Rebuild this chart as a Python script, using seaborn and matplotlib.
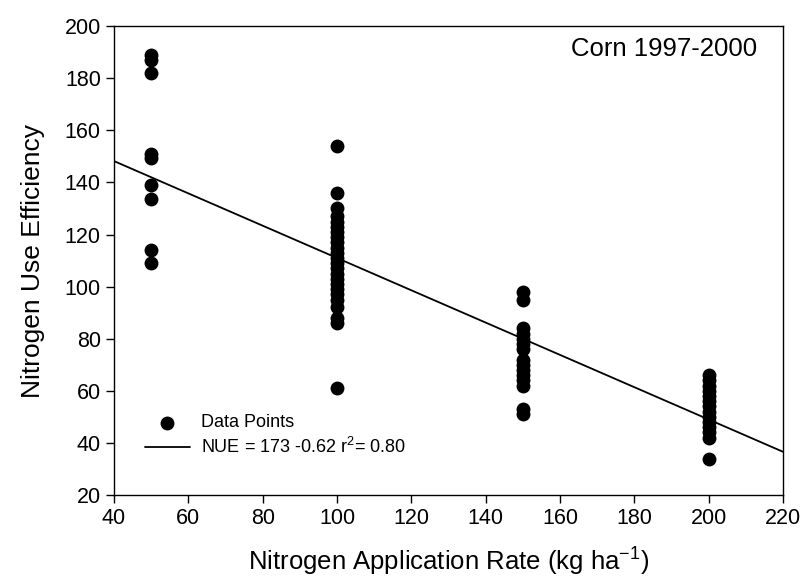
import numpy as np
import pandas as pd
import matplotlib.pyplot as plt
import seaborn as sns

# N rates (kg/ha) and NUE values
rate_50 = [189, 187, 182, 151, 149.5, 139, 133.5, 114, 109]
rate_100 = [154, 136, 130, 127, 125, 123, 121, 119, 117, 115, 113, 111, 109,
            107, 105, 103, 101, 99, 97, 95, 92, 88, 86, 61]
rate_150 = [98, 95, 84, 82, 80, 78, 76, 72, 70, 68, 66, 64, 62, 53, 51]
rate_200 = [66, 64, 62, 60, 58, 56, 54, 52, 50, 48, 46, 44, 42, 34]

intercept = 173
slope = -0.62
fit_x = [40, 220]

rows = []
for rate, vals in [(50, rate_50), (100, rate_100), (150, rate_150), (200, rate_200)]:
    rows += [(rate, v) for v in vals]
df = pd.DataFrame(rows, columns=['rate', 'nue'])
fit_df = pd.DataFrame({'rate': fit_x, 'nue': [intercept + slope * x for x in fit_x]})

sns.set_style('ticks')
plt.rcParams['font.family'] = ['Liberation Sans', 'DejaVu Sans']
plt.rcParams['mathtext.fontset'] = 'custom'
plt.rcParams['mathtext.rm'] = 'Liberation Sans'
plt.rcParams['mathtext.default'] = 'rm'
plt.rcParams['text.color'] = 'black'
plt.rcParams['axes.labelcolor'] = 'black'

fig = plt.figure(figsize=(8.01, 5.81), dpi=100)
ax = fig.add_axes([0.1423, 0.148, 0.8352, 0.807])

sns.scatterplot(data=df, x='rate', y='nue', ax=ax, color='black', s=100,
                edgecolor='black', linewidth=0, label='Data Points', zorder=3)
sns.lineplot(data=fit_df, x='rate', y='nue', ax=ax, color='black', linewidth=1.3,
             label='NUE = 173 -0.62 r$^2$= 0.80')

ax.set_xlim(40, 220)
ax.set_ylim(20, 200)
ax.set_xticks(np.arange(40, 221, 20))
ax.set_yticks(np.arange(20, 201, 20))
ax.tick_params(direction='out', length=6, width=1, labelsize=15.5, colors='black')
for sp in ax.spines.values():
    sp.set_visible(True)
    sp.set_linewidth(1)
    sp.set_color('black')

ax.set_xlabel('Nitrogen Application Rate (kg ha$^{-1}$)', fontsize=18.5, labelpad=12)
ax.set_ylabel('Nitrogen Use Efficiency', fontsize=19, labelpad=14)
ax.text(0.961, 0.951, 'Corn 1997-2000', transform=ax.transAxes, ha='right',
        va='center', fontsize=18.5)

ax.legend(loc='lower left', bbox_to_anchor=(0.035, 0.065), frameon=False,
          fontsize=13, handlelength=2.5, handletextpad=0.6, borderaxespad=0,
          labelspacing=0.32)

fig.savefig('out.png', dpi=100)
